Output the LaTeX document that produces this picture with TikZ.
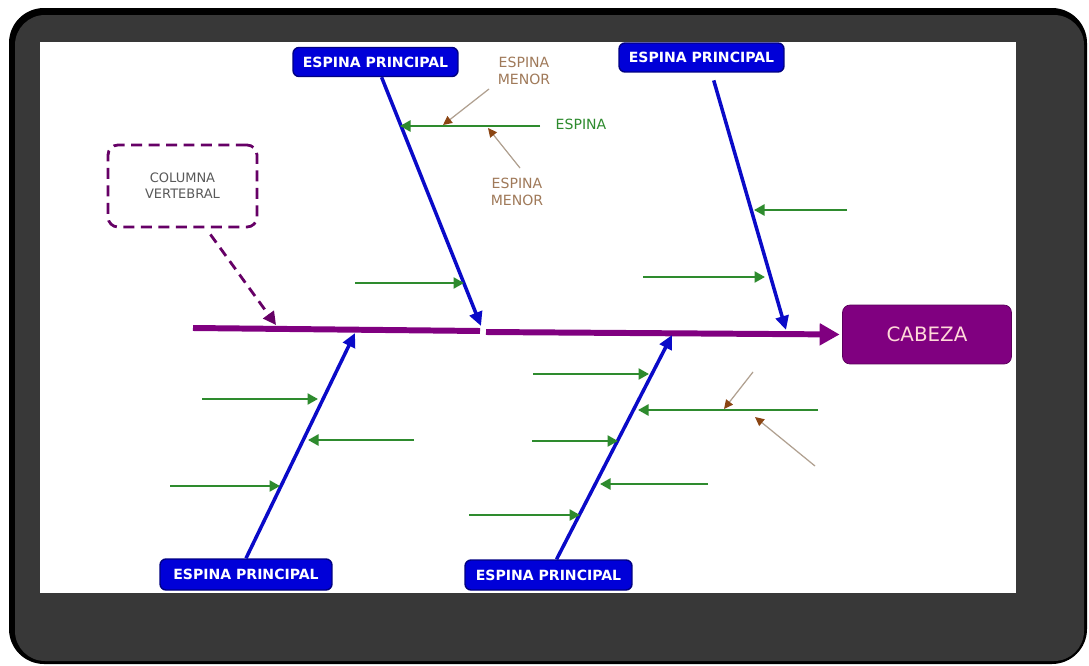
\documentclass[tikz,border=0pt]{standalone}
\usepackage{fontspec}
\setmainfont{DejaVu Sans}
\usepackage{tikz}
\usetikzlibrary{
    arrows.meta,
    positioning,
}
\definecolor{BoneBlue}{HTML}{0A0AC8}
\definecolor{BoxBlue}{HTML}{0000D8}
\definecolor{SpinePurple}{HTML}{800080}
\definecolor{RibGreen}{HTML}{2E8B2E}
\definecolor{MinorLine}{HTML}{B0A090}
\definecolor{MinorHead}{HTML}{8B4513}
\definecolor{MinorText}{HTML}{A07A5A}
\definecolor{FrameGray}{HTML}{383838}
\tikzstyle{principal}=[draw=BoxBlue!60!black,fill=BoxBlue,rounded corners=1.2mm,thick,text=white,font=\bfseries\fontsize{8}{9.5}\selectfont,minimum width=3.3cm,minimum height=5.8mm,inner sep=0mm]
\tikzstyle{cabeza}=[draw=SpinePurple!70!black,fill=SpinePurple,rounded corners=1.5mm,text=pink!60!white,font=\fontsize{11.3}{13}\selectfont,minimum width=3.38cm,minimum height=1.18cm]
\tikzstyle{columna}=[draw=SpinePurple!80!black,line width=1.6pt,dash pattern=on 2.2mm off 1.3mm,rounded corners=2mm,text=black!65,font=\fontsize{7.4}{9}\selectfont,align=center,minimum width=2.98cm,minimum height=1.64cm]
\tikzstyle{menor}=[text=MinorText,font=\fontsize{8}{9.5}\selectfont,align=center,inner sep=0.5mm]
\tikzstyle{spine}=[draw=SpinePurple,line width=3.4pt]
\tikzstyle{bone}=[draw=BoneBlue,line width=2pt,-{Triangle[length=2.8mm,width=2.6mm]}]
\tikzstyle{rib}=[draw=RibGreen,line width=1.4pt,-{Triangle[length=2.1mm,width=2.2mm]}]
\tikzstyle{minor}=[draw=MinorLine,line width=0.7pt,-{Triangle[length=1.8mm,width=1.7mm,color=MinorHead]}]
\newcommand{\Rib}[3]{%
    \coordinate (#1a) at #2;
    \coordinate (#1b) at #3;
    \draw[rib] (#1a) -- (#1b);
}
\newcommand{\Minor}[3]{%
    \coordinate (#1a) at #2;
    \coordinate (#1b) at #3;
    \draw[minor] (#1a) -- (#1b);
}

\begin{document}
\begin{tikzpicture}[x=0.02cm,y=-0.02cm]
    % Frame
    \useasboundingbox (0,0) rectangle (1089,666);
    \fill[white] (0,0) rectangle (1089,666);
    \fill[black,rounded corners=0.7cm] (9,8) rectangle (1087,664);
    \fill[FrameGray,rounded corners=0.6cm] (15,15) rectangle (1084,661);
    \fill[white] (40,42) rectangle (1016,593);

    % Head and spine
    \node[cabeza] (cabeza) at (927,334.5) {CABEZA};
    \coordinate (sp0) at (193,328);
    \coordinate (sp1) at (480,331);
    \coordinate (sp2) at (486,332);
    \draw[spine] (sp0) -- (sp1);
    \draw[spine,-{Triangle[length=4mm,width=4.2mm]},shorten >=0.5mm] (sp2) -- (cabeza.west);

    \node[columna] (columna) at (182.5,186) {COLUMNA\\VERTEBRAL};
    \coordinate (colTip) at (276,325);
    \draw[draw=SpinePurple!80!black,line width=1.6pt,dash pattern=on 2mm off 1.3mm,-{Triangle[length=2.6mm,width=2.6mm]},shorten <=1.5mm] (columna.south -| 206,0) -- (colTip);

    % Main bones
    \node[principal] (ep1) at (375.5,62) {ESPINA PRINCIPAL};
    \node[principal] (ep2) at (701.5,57.5) {ESPINA PRINCIPAL};
    \node[principal,minimum width=3.44cm,minimum height=6.2mm] (ep3) at (246,574.5) {ESPINA PRINCIPAL};
    \node[principal,minimum width=3.34cm,minimum height=6mm] (ep4) at (548.5,575) {ESPINA PRINCIPAL};
    \coordinate (t1) at (481,326);
    \coordinate (t2) at (786,330);
    \coordinate (t3) at (355,333);
    \coordinate (t4) at (672,335);
    \draw[bone] (ep1) -- (t1);
    \draw[bone,shorten <=1.6mm] ([xshift=2mm]ep2.south) -- (t2);
    \draw[bone] (ep3.north) -- (t3);
    \draw[bone] (ep4) -- (t4);

    % Ribs
    \node[text=RibGreen,font=\fontsize{8}{9.5}\selectfont] (espina) at (581,124) {ESPINA};
    \Rib{r1}{(540,126)}{(400,126)}
    \Rib{r2}{(355,283)}{(464,283)}
    \Rib{r3}{(847,210)}{(754,210)}
    \Rib{r4}{(643,277)}{(765,277)}
    \Rib{r5}{(202,399)}{(318,399)}
    \Rib{r6}{(414,440)}{(308,440)}
    \Rib{r7}{(170,486)}{(280,486)}
    \Rib{r8}{(533,374)}{(649,374)}
    \Rib{r9}{(818,410)}{(638,410)}
    \Rib{r10}{(532,441)}{(618,441)}
    \Rib{r11}{(708,484)}{(600,484)}
    \Rib{r12}{(469,515)}{(580,515)}

    % Minor spines
    \node[menor] (men1) at (524,71) {ESPINA\\MENOR};
    \node[menor] (men2) at (517,192) {ESPINA\\MENOR};
    \Minor{m1}{(489,89)}{(443,125)}
    \Minor{m2}{(520,168)}{(488,128)}
    \Minor{m3}{(753,372)}{(724,409)}
    \Minor{m4}{(815,466)}{(755,417)}
\end{tikzpicture}
\end{document}
